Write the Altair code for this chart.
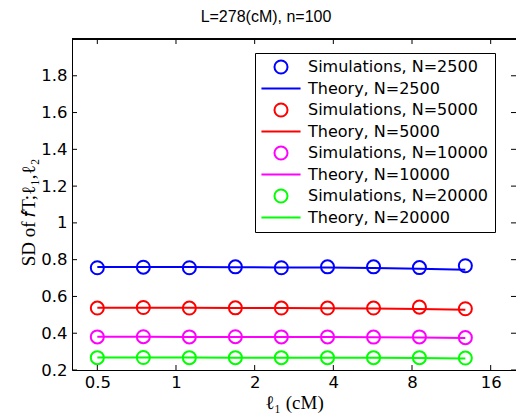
import altair as alt
import pandas as pd

# Window sizes (cM) on the log axis
l1_cm = [0.5, 0.75, 1.125, 1.6875, 2.53, 3.80, 5.70, 8.54, 12.8]

pop_sizes = ["2500", "5000", "10000", "20000"]
line_colors = ["#0000ff", "#ff0000", "#ff00ff", "#00ff00"]

sim_2500 = [0.756, 0.759, 0.756, 0.761, 0.756, 0.761, 0.761, 0.757, 0.767]
th_2500 = [0.760, 0.760, 0.760, 0.759, 0.758, 0.757, 0.755, 0.751, 0.745]
sim_5000 = [0.537, 0.540, 0.537, 0.538, 0.537, 0.537, 0.537, 0.542, 0.533]
th_5000 = [0.538, 0.538, 0.538, 0.537, 0.537, 0.536, 0.535, 0.532, 0.527]
sim_10000 = [0.380, 0.381, 0.380, 0.381, 0.380, 0.380, 0.379, 0.380, 0.376]
th_10000 = [0.381, 0.381, 0.380, 0.380, 0.380, 0.379, 0.378, 0.377, 0.374]
sim_20000 = [0.267, 0.268, 0.267, 0.267, 0.267, 0.267, 0.267, 0.267, 0.265]
th_20000 = [0.268, 0.268, 0.268, 0.267, 0.267, 0.267, 0.266, 0.265, 0.263]

sim_series = [sim_2500, sim_5000, sim_10000, sim_20000]
theory_series = [th_2500, th_5000, th_10000, th_20000]

x_ticks = [0.5, 1, 2, 4, 8, 16]
y_ticks = [0.2, 0.4, 0.6, 0.8, 1.0, 1.2, 1.4, 1.6, 1.8]

W, H = 444, 331
SANS = "DejaVu Sans"

# Long tables for the marks
sim_rows, th_rows = [], []
labels, colors, shapes = [], [], []
for n, col, sims, ths in zip(pop_sizes, line_colors, sim_series, theory_series):
    s_lab = f"Simulations, N={n}"
    t_lab = f"Theory, N={n}"
    labels += [s_lab, t_lab]
    colors += [col, col]
    shapes += ["circle", "M-3,0H3"]
    for x, s, t in zip(l1_cm, sims, ths):
        sim_rows.append({"l1": x, "sd": s, "label": s_lab})
        th_rows.append({"l1": x, "sd": t, "label": t_lab})

sim_df = pd.DataFrame(sim_rows)
th_df = pd.DataFrame(th_rows)
xtick_df = pd.DataFrame({"l1": x_ticks})
ytick_df = pd.DataFrame({"sd": y_ticks})

x_scale = alt.Scale(type="log", domain=[0.4, 20], nice=False)
y_scale = alt.Scale(domain=[0.2, 2.0], nice=False, zero=False)
color_scale = alt.Scale(domain=labels, range=colors)
shape_scale = alt.Scale(domain=labels, range=shapes)

x_axis = alt.Axis(
    values=x_ticks, format="~g", title="ℓ₁ (cM)", grid=False,
    tickSize=0, labelPadding=4, labelFont=SANS, labelFontSize=16.5,
    titleFont="Liberation Serif", titleFontSize=19, titleFontWeight="normal",
    titlePadding=3,
)
y_axis = alt.Axis(
    values=y_ticks, format=".1~f", title="SD of 𝑓T;ℓ₁,ℓ₂", grid=False,
    tickSize=0, labelPadding=5, labelFont=SANS, labelFontSize=16.5,
    titleFont="Liberation Serif", titleFontSize=19, titleFontWeight="normal",
    titlePadding=2, titleY=173,
)

legend = alt.Legend(
    title=None, orient="none", legendX=183, legendY=14,
    labelFont=SANS, labelFontSize=16, labelColor="black",
    labelLimit=400, labelOffset=19, symbolSize=170, symbolStrokeWidth=2,
    symbolOffset=12, rowPadding=2.5, padding=6,
    strokeColor="black", fillColor="white",
)

theory = alt.Chart(th_df).mark_line(strokeWidth=2).encode(
    x=alt.X("l1:Q", scale=x_scale, axis=x_axis),
    y=alt.Y("sd:Q", scale=y_scale, axis=y_axis),
    color=alt.Color("label:N", scale=color_scale, legend=legend),
)

sims = alt.Chart(sim_df).mark_point(filled=False, size=170, strokeWidth=2, opacity=1).encode(
    x=alt.X("l1:Q"),
    y=alt.Y("sd:Q"),
    color=alt.Color("label:N", scale=color_scale, legend=legend),
    shape=alt.Shape("label:N", scale=shape_scale, legend=legend),
)

# Inward tick marks on all sides of the box
xt_bottom = alt.Chart(xtick_df).mark_rule(color="black", strokeWidth=1).encode(
    x="l1:Q", y=alt.value(H), y2=alt.value(H - 5))
xt_top = alt.Chart(xtick_df).mark_rule(color="black", strokeWidth=1).encode(
    x="l1:Q", y=alt.value(0), y2=alt.value(5))
yt_left = alt.Chart(ytick_df).mark_rule(color="black", strokeWidth=1).encode(
    y="sd:Q", x=alt.value(0), x2=alt.value(5))
yt_right = alt.Chart(ytick_df).mark_rule(color="black", strokeWidth=1).encode(
    y="sd:Q", x=alt.value(W - 5), x2=alt.value(W))
top_line = alt.Chart(xtick_df).mark_rule(color="black", strokeWidth=1).encode(
    x=alt.value(0), x2=alt.value(W), y=alt.value(0))

chart = alt.layer(theory, sims, xt_bottom, xt_top, yt_left, yt_right, top_line).properties(
    width=W, height=H,
    background="white",
    title=alt.TitleParams(
        "L=278(cM), n=100", anchor="middle", frame="group", dx=-28, offset=14,
        font="Liberation Sans", fontSize=16, fontWeight="normal", color="black",
    ),
    autosize=alt.AutoSizeParams(type="none"),
    padding={"left": 72, "top": 39, "right": 0, "bottom": 48},
).configure_view(
    stroke=None,
).configure_axis(
    domainColor="black", domainWidth=1, labelColor="black", titleColor="black",
)

chart.save("out.html", embed_options={"renderer": "svg", "actions": False})
